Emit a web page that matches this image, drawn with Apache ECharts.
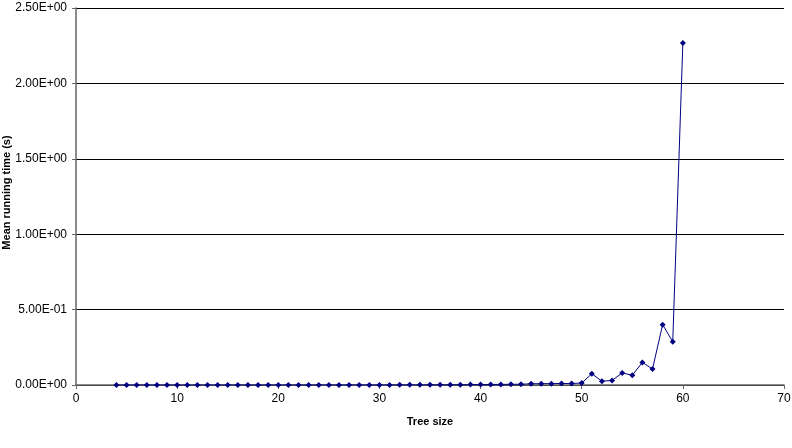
<!DOCTYPE html>
<html>
<head>
<meta charset="utf-8">
<script src="https://cdn.jsdelivr.net/npm/echarts@6/dist/echarts.min.js"></script>
<style>
  html, body { margin: 0; padding: 0; background: #fff; }
  #main { width: 792px; height: 448px; }
</style>
</head>
<body>
<div id="main"></div>
<script>
// tree sizes 4..60
var treeSize = [4, 5, 6, 7, 8, 9, 10, 11, 12, 13, 14, 15, 16, 17, 18, 19, 20,
  21, 22, 23, 24, 25, 26, 27, 28, 29, 30, 31, 32, 33, 34, 35, 36, 37, 38, 39, 40,
  41, 42, 43, 44, 45, 46, 47, 48, 49, 50, 51, 52, 53, 54, 55, 56, 57, 58, 59, 60];

// mean running time (s)
var meanTime = [0.0001, 0.0001, 0.0001, 0.0001, 0.0001, 0.0001, 0.0001, 0.0001, 0.0001, 0.0001,
  0.0001, 0.0001, 0.0001, 0.0002, 0.0002, 0.0002, 0.0002, 0.0002, 0.0003, 0.0003,
  0.0003, 0.0004, 0.0004, 0.0005, 0.0005, 0.0006, 0.0007, 0.0008, 0.0009, 0.001,
  0.0012, 0.0014, 0.0016, 0.0018, 0.002, 0.0025, 0.003, 0.0035, 0.004, 0.0045,
  0.005, 0.008, 0.009, 0.009, 0.010, 0.010, 0.013, 0.075, 0.025, 0.03,
  0.08, 0.065, 0.15, 0.106, 0.40, 0.287, 2.268];

var xTicks = [0, 70, 10];
var yTicks = [0, 2.5, 0.5];

// 2.50E+00 样式
function sciLabel(v) {
  var s = v.toExponential(2).toUpperCase();
  var parts = s.split("E");
  var sign = parts[1].charAt(0);
  var exp = parts[1].slice(1);
  if (exp.length < 2) exp = "0" + exp;
  return parts[0] + "E" + sign + exp;
}

var myChart = echarts.init(document.getElementById("main"));
myChart.setOption({
  animation: false,
  textStyle: { fontFamily: "Liberation Sans, Arial, sans-serif" },
  grid: { left: 76, right: 8, top: 8, bottom: 63, containLabel: false, outerBoundsMode: "none" },
  xAxis: {
    type: "value",
    min: xTicks[0],
    max: xTicks[1],
    interval: xTicks[2],
    name: "Tree size",
    nameLocation: "middle",
    nameGap: 31,
    nameMoveOverlap: false,
    nameTextStyle: { fontWeight: "bold", fontSize: 11, color: "#000" },
    axisLine: { lineStyle: { color: "#666", width: 1.5 } },
    axisTick: { show: true, length: 4, lineStyle: { color: "#666" } },
    axisLabel: { fontSize: 12, color: "#000", margin: 8 },
    splitLine: { show: false }
  },
  yAxis: {
    type: "value",
    min: yTicks[0],
    max: yTicks[1],
    interval: yTicks[2],
    name: "Mean running time (s)",
    nameLocation: "middle",
    nameGap: 64,
    nameRotate: 90,
    nameMoveOverlap: false,
    nameTextStyle: { fontWeight: "bold", fontSize: 11, color: "#000", padding: [0, 0, 0, 8] },
    axisLine: { show: true, lineStyle: { color: "#666", width: 1.5 } },
    axisTick: { show: true, length: 4, lineStyle: { color: "#666" } },
    axisLabel: { fontSize: 12, color: "#000", margin: 9, formatter: sciLabel },
    splitLine: { show: true, lineStyle: { color: "#000", width: 1 } }
  },
  series: [
    {
      type: "line",
      data: treeSize.map(function (x, i) { return [x, meanTime[i]]; }),
      symbol: "diamond",
      symbolSize: 6,
      showSymbol: true,
      lineStyle: { color: "#000080", width: 1 },
      itemStyle: { color: "#000080" }
    }
  ]
});
</script>
</body>
</html>
